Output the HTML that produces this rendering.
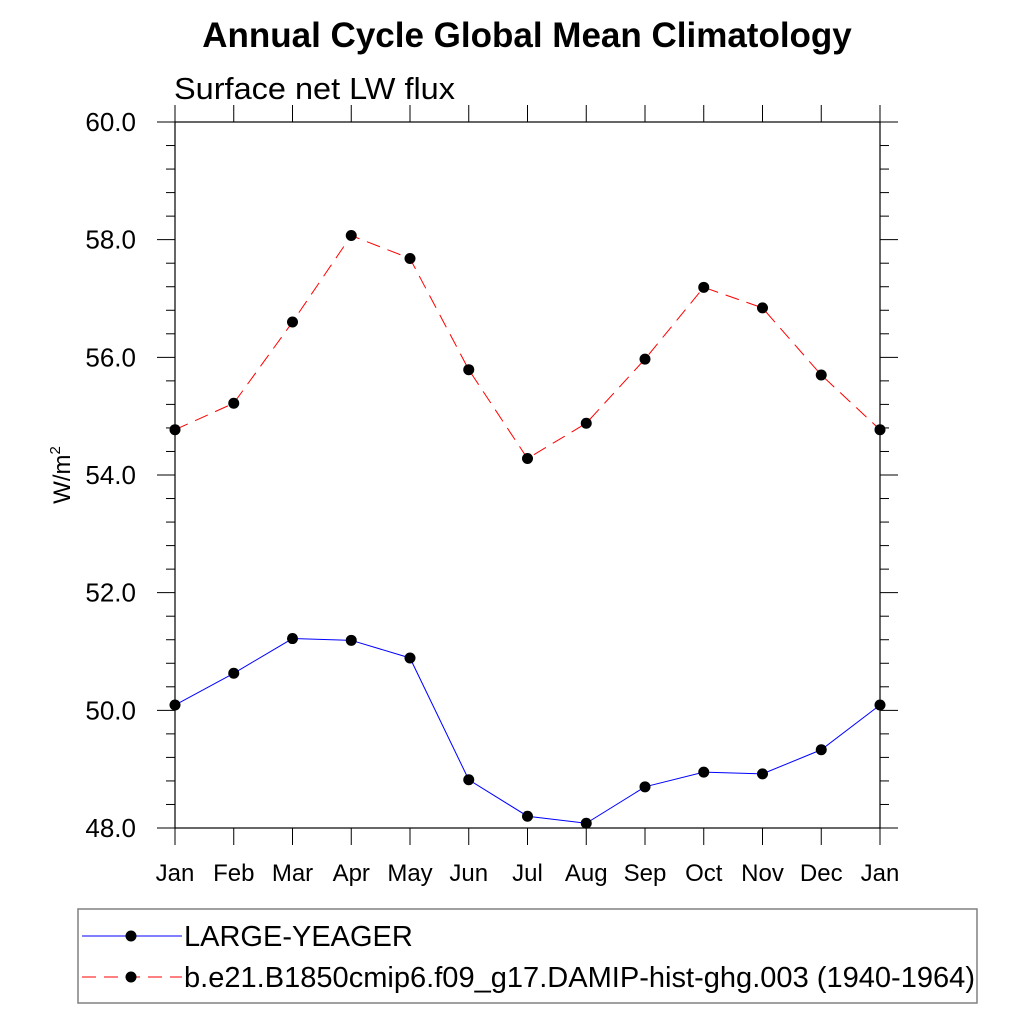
<!DOCTYPE html>
<html><head><meta charset="utf-8"><style>
body{margin:0;background:#fff;}
svg text{font-family:"Liberation Sans",Arial,sans-serif;fill:#000;}
</style></head><body>
<svg width="1024" height="1024" viewBox="0 0 1024 1024" xmlns="http://www.w3.org/2000/svg">
<text x="527" y="47" text-anchor="middle" font-size="35" font-weight="bold">Annual Cycle Global Mean Climatology</text>
<text x="174" y="99" font-size="31" textLength="281" lengthAdjust="spacingAndGlyphs">Surface net LW flux</text>
<text transform="translate(70,475) rotate(-90)" text-anchor="middle" font-size="24">W/m<tspan font-size="15" dy="-10">2</tspan></text>
<g id="axes"></g>
<g id="series"></g>
<g>
<rect x="78" y="909" width="899" height="94" fill="none" stroke="#808080" stroke-width="1.5"/>
<g>
<line x1="82" y1="936" x2="182" y2="936" stroke="#0000ff" stroke-width="1"/>
<circle cx="131" cy="936" r="5.5" fill="#000"/>
<text x="184" y="946" font-size="29">LARGE-YEAGER</text></g>
<g>
<line x1="82" y1="977" x2="182" y2="977" stroke="#ff0000" stroke-width="1" stroke-dasharray="14,8"/>
<circle cx="131" cy="977" r="5.5" fill="#000"/>
<text x="184" y="987" font-size="29" textLength="791" lengthAdjust="spacingAndGlyphs">b.e21.B1850cmip6.f09_g17.DAMIP-hist-ghg.003 (1940-1964)</text></g>
</g>
</svg>
<script>
const months=["Jan","Feb","Mar","Apr","May","Jun","Jul","Aug","Sep","Oct","Nov","Dec","Jan"];
const yTicks=[48,50,52,54,56,58,60];
const obsValues=[50.09,50.63,51.22,51.19,50.89,48.82,48.2,48.08,48.7,48.95,48.92,49.33,50.09];
const modelValues=[54.77,55.22,56.6,58.07,57.68,55.79,54.28,54.88,55.97,57.19,56.84,55.7,54.77];
const X0=175,X1=880,Y0=828,Y1=122,YMIN=48,YMAX=60;
const xs=i=>X0+(X1-X0)*i/(months.length-1);
const ys=v=>Y0-(v-YMIN)/(YMAX-YMIN)*(Y0-Y1);
const NS="http://www.w3.org/2000/svg";
function mk(tag,attrs,parent){const e=document.createElementNS(NS,tag);for(const k in attrs)e.setAttribute(k,attrs[k]);parent.appendChild(e);return e;}
const ax=document.getElementById('axes');
const frame=mk('rect',{x:X0,y:Y1,width:X1-X0,height:Y0-Y1,fill:'none',stroke:'#000','stroke-width':1.2},ax);


months.forEach((m,i)=>{const x=xs(i);
 mk('line',{x1:x,y1:Y0,x2:x,y2:Y0+17,stroke:'#000','stroke-width':1},ax);
 mk('line',{x1:x,y1:Y1,x2:x,y2:Y1-17,stroke:'#000','stroke-width':1},ax);
 const t=mk('text',{x:x,y:881,'text-anchor':'middle','font-size':24},ax);t.textContent=m;
 
 
});
for(let v=YMIN;v<=YMAX+1e-9;v+=0.4){const y=ys(v);const major=Math.abs(v/2-Math.round(v/2))<1e-6;const L=major?18:9;
 mk('line',{x1:X0-L,y1:y,x2:X0,y2:y,stroke:'#000','stroke-width':1},ax);
 mk('line',{x1:X1,y1:y,x2:X1+L,y2:y,stroke:'#000','stroke-width':1},ax);}
yTicks.forEach(v=>{const t=mk('text',{x:136,y:ys(v)+9,'text-anchor':'end','font-size':26},ax);t.textContent=v.toFixed(1);
 
 });
const sg=document.getElementById('series');
function series(vals,color,dash,name){
 const p=mk('polyline',{points:vals.map((v,i)=>xs(i)+','+ys(v)).join(' '),fill:'none',stroke:color,'stroke-width':1,'stroke-dasharray':dash},sg);
 
 
 vals.forEach((v,i)=>{const c=mk('circle',{cx:xs(i),cy:ys(v),r:5.5,fill:'#000'},sg);
  
  });
}
series(modelValues,'#ff0000','14,8','model');
series(obsValues,'#0000ff','none','large-yeager');
</script>
</body></html>
